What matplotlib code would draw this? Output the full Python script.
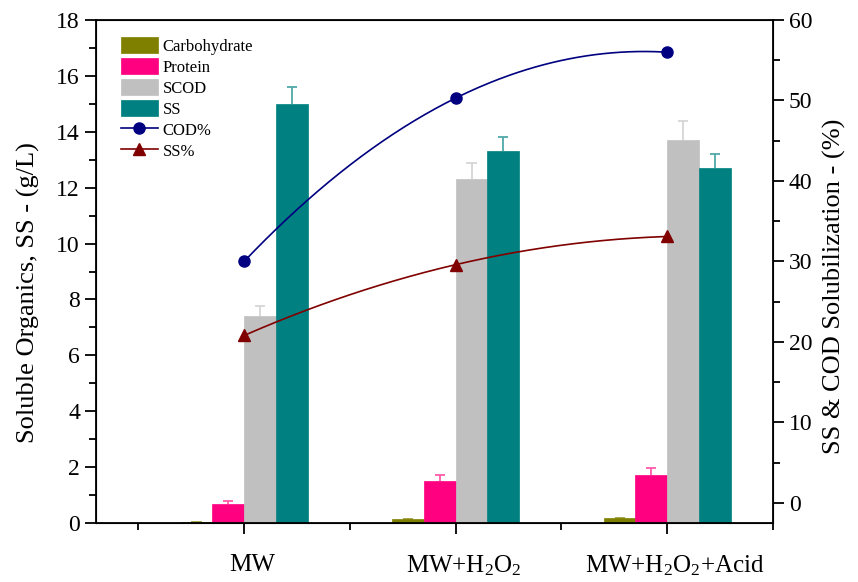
import numpy as np
import matplotlib
matplotlib.use("Agg")
import matplotlib.pyplot as plt
from matplotlib.ticker import MultipleLocator
from matplotlib.transforms import ScaledTranslation

plt.rcParams['font.family'] = ['Liberation Serif', 'DejaVu Serif']
plt.rcParams['mathtext.fontset'] = 'custom'
plt.rcParams['mathtext.rm'] = 'Liberation Serif'
plt.rcParams['mathtext.it'] = 'Liberation Serif:italic'

# data
categories = [r'MW', r'MW+H$_\mathregular{2}$O$_\mathregular{2}$', r'MW+H$_\mathregular{2}$O$_\mathregular{2}$+Acid']
carbohydrate = [0.05, 0.14, 0.17]
carbohydrate_err = [0.0, 0.02, 0.02]
protein = [0.68, 1.50, 1.70]
protein_err = [0.10, 0.23, 0.25]
scod = [7.40, 12.30, 13.70]
scod_err = [0.35, 0.60, 0.68]
ss = [15.00, 13.30, 12.70]
ss_err = [0.60, 0.52, 0.50]
cod_pct = [30.0, 50.3, 56.0]
ss_pct = [20.8, 29.6, 33.1]

x = np.arange(1, len(categories) + 1)
w = 0.15
cap = 0.024  # half width of error bar caps

fig = plt.figure(figsize=(8.58, 5.82), dpi=100)
ax = fig.add_axes([0.1119, 0.1014, 0.789, 0.8642])

bar_series = [
    (carbohydrate, carbohydrate_err, '#808000', '#A0A040', 'Carbohydrate', -1.5),
    (protein, protein_err, '#FF0080', '#FF5AA8', 'Protein', -0.5),
    (scod, scod_err, '#C0C0C0', '#D6D6D6', 'SCOD', 0.5),
    (ss, ss_err, '#008080', '#4FA8A8', 'SS', 1.5),
]
handles = []
for vals, errs, col, ecol, lab, off in bar_series:
    xp = x + off * w
    vals = np.array(vals)
    errs = np.array(errs)
    b = ax.bar(xp, vals, w, color=col, edgecolor=col, linewidth=0.5, label=lab, zorder=2)
    # upper error bars only
    ax.vlines(xp, vals, vals + errs, color=ecol, lw=1.3, zorder=1.5)
    ax.hlines(vals + errs, xp - cap, xp + cap, color=ecol, lw=1.3, zorder=1.5)
    handles.append(b)

ax.set_xlim(0.3, 3.5)
ax.set_ylim(0, 18)
ax.set_xticks(x)
ax.set_xticklabels(categories, fontsize=18)
ax.xaxis.set_minor_locator(MultipleLocator(0.5))
ax.yaxis.set_major_locator(MultipleLocator(2))
ax.yaxis.set_minor_locator(MultipleLocator(1))
ax.tick_params(axis='y', labelsize=17, direction='out', length=8, width=1.3)
ax.tick_params(axis='y', which='minor', direction='out', length=5, width=1.3)
ax.tick_params(axis='x', direction='out', length=8, width=1.3, pad=14)
ax.tick_params(axis='x', which='minor', direction='out', length=5, width=1.3)
for lab in ax.get_xticklabels():
    lab.set_transform(lab.get_transform() + ScaledTranslation(0.08, 0, fig.dpi_scale_trans))
ax.set_ylabel('Soluble Organics, SS - (g/L)', fontsize=19)
ax.yaxis.set_label_coords(-0.082, 0.459)
for s in ax.spines.values():
    s.set_linewidth(1.3)

ax2 = ax.twinx()
ax2.set_ylim(-2.5, 60)
ax2.yaxis.set_major_locator(MultipleLocator(10))
ax2.yaxis.set_minor_locator(MultipleLocator(5))
ax2.tick_params(axis='y', labelsize=17, direction='out', length=8, width=1.3)
ax2.tick_params(axis='y', which='minor', direction='out', length=5, width=1.3)
ax2.set_ylabel('SS & COD Solubilization - (%)', fontsize=19)
ax2.yaxis.set_label_coords(1.074, 0.471)

# smooth curves through the three points
xs = np.linspace(1, 3, 200)
cod_fit = np.polyval(np.polyfit(x, cod_pct, 2), xs)
ss_fit = np.polyval(np.polyfit(x, ss_pct, 2), xs)
ax2.plot(xs, cod_fit, color='#000080', lw=1.2, zorder=3)
ax2.plot(xs, ss_fit, color='#800000', lw=1.2, zorder=3)
ax2.plot(x, cod_pct, 'o', color='#000080', ms=8, zorder=4)
ax2.plot(x, ss_pct, '^', color='#800000', ms=9, zorder=4)
h_cod, = ax2.plot([], [], '-o', color='#000080', lw=1.2, ms=8, label='COD%')
h_ss, = ax2.plot([], [], '-^', color='#800000', lw=1.2, ms=9, label='SS%')
handles += [h_cod, h_ss]

ax2.legend(handles=handles, loc='upper left', bbox_to_anchor=(0.037, 0.966),
           frameon=False, fontsize=12, borderpad=0, borderaxespad=0,
           handlelength=2.2, handleheight=1.05, handletextpad=0.3, labelspacing=0.22)

fig.savefig('out.png', dpi=100)
